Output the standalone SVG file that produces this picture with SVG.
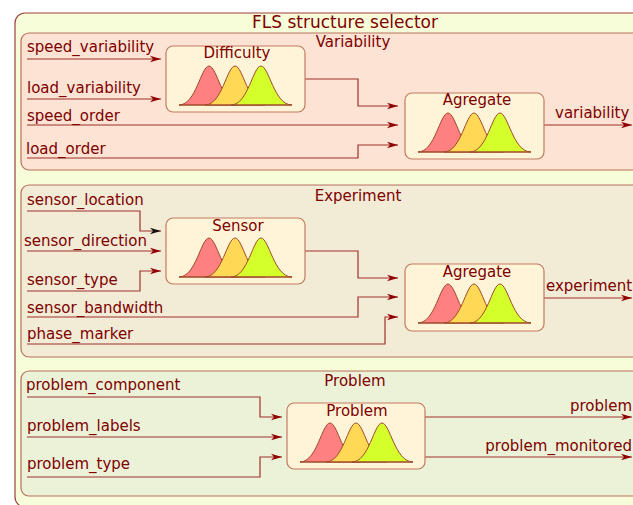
<svg xmlns="http://www.w3.org/2000/svg" xmlns:xlink="http://www.w3.org/1999/xlink" width="633" height="505" viewBox="0 0 633 505">
<style>
text{font-family:"DejaVu Sans","Liberation Sans",sans-serif;fill:#800000;font-size:15px}
.title{font-size:17px}
.c{text-anchor:middle}
.e{text-anchor:end}
.edge{fill:none;stroke:#a0302c;stroke-width:1.2}
.cl{stroke:#b8705e;stroke-width:1.2}
.node{fill:#fff4d8;stroke:#c47a62;stroke-width:1.2}
.br{fill:#ff8080;stroke:#a04a2a;stroke-width:1}
.by{fill:#ffd955;stroke:#a04a2a;stroke-width:1}
.bl{fill:#d5ff2a;stroke:#a04a2a;stroke-width:1}
.bb{stroke:#a04a2a;stroke-width:1.2}
</style>
<defs>
<marker id="ah" markerUnits="userSpaceOnUse" markerWidth="12" markerHeight="8" refX="11" refY="4" orient="auto">
<path d="M0,0.8 L11,4 L0,7.2 L3,4 Z" fill="#900000"/>
</marker>
<marker id="ahk" markerUnits="userSpaceOnUse" markerWidth="12" markerHeight="8" refX="11" refY="4" orient="auto">
<path d="M0,0.8 L11,4 L0,7.2 L3,4 Z" fill="#111"/>
</marker>
<g id="bells">
<path class="br" d="M13,59 C30,59 35,20 43,20 C51,20 56,59 73,59 Z"/>
<path class="by" d="M39,59 C56,59 61,20 69,20 C77,20 82,59 99,59 Z"/>
<path class="bl" d="M65,59 C82,59 87,20 95,20 C103,20 108,59 126,59 Z"/>
<line class="bb" x1="13" y1="59" x2="126" y2="59"/>
</g>
</defs>
<rect x="0" y="0" width="633" height="505" fill="#ffffff"/>
<g id="fls">
<rect x="15" y="13" width="640" height="494" rx="10" fill="#f6fdd8" stroke="#a04040" stroke-width="1.2"/>
<text class="title c" x="345" y="28">FLS structure selector</text>
</g>
<g id="cluster_variability">
<rect class="cl" x="21" y="33" width="630" height="137" rx="8" fill="#fde3d3"/>
<text class="c" x="353" y="47">Variability</text>
</g>
<g id="cluster_experiment">
<rect class="cl" x="21" y="185" width="630" height="172" rx="8" fill="#f2ebd6"/>
<text class="c" x="358" y="201">Experiment</text>
</g>
<g id="cluster_problem">
<rect class="cl" x="21" y="371" width="630" height="125" rx="8" fill="#ecf2d8"/>
<text class="c" x="355" y="386">Problem</text>
</g>
<g id="connectors">
<path class="edge" marker-end="url(#ah)" d="M27,59 H161"/>
<path class="edge" marker-end="url(#ah)" d="M27,99 H161"/>
<path class="edge" marker-end="url(#ah)" d="M27,125 H398"/>
<path class="edge" marker-end="url(#ah)" d="M27,158 H358 V145 H398"/>
<path class="edge" marker-end="url(#ah)" d="M305,79 H358 V106 H398"/>
<path class="edge" marker-end="url(#ah)" d="M544,125 H632"/>
<path class="edge" marker-end="url(#ahk)" d="M27,211 H140 V231 H161"/>
<path class="edge" marker-end="url(#ah)" d="M27,251 H161"/>
<path class="edge" marker-end="url(#ah)" d="M27,291 H140 V271 H161"/>
<path class="edge" marker-end="url(#ah)" d="M305,251 H358 V278 H398"/>
<path class="edge" marker-end="url(#ah)" d="M27,317 H358 V297 H398"/>
<path class="edge" marker-end="url(#ah)" d="M27,344 H385 V317 H398"/>
<path class="edge" marker-end="url(#ah)" d="M544,298 H632"/>
<path class="edge" marker-end="url(#ah)" d="M27,397 H260 V417 H282"/>
<path class="edge" marker-end="url(#ah)" d="M27,437 H282"/>
<path class="edge" marker-end="url(#ah)" d="M27,477 H260 V457 H282"/>
<path class="edge" marker-end="url(#ah)" d="M425,417 H632"/>
<path class="edge" marker-end="url(#ah)" d="M425,457 H632"/>
<text x="27" y="52">speed_variability</text>
<text x="27" y="93">load_variability</text>
<text x="27" y="121">speed_order</text>
<text x="26" y="154">load_order</text>
<text x="555" y="118">variability</text>
<text x="27" y="205">sensor_location</text>
<text x="24" y="246">sensor_direction</text>
<text x="27" y="285">sensor_type</text>
<text x="27" y="313">sensor_bandwidth</text>
<text x="27" y="339">phase_marker</text>
<text x="546" y="291">experiment</text>
<text x="26" y="390">problem_component</text>
<text x="27" y="431">problem_labels</text>
<text x="27" y="469">problem_type</text>
<text class="e" x="632" y="411">problem</text>
<text class="e" x="632" y="451">problem_monitored</text>
</g>
<g id="difficulty">
<rect class="node" x="166" y="46" width="139" height="66" rx="7"/>
<text class="c" x="237" y="58">Difficulty</text>
<use xlink:href="#bells" href="#bells" x="166" y="46"/>
</g>
<g id="agregate_variability">
<rect class="node" x="405" y="93" width="139" height="66" rx="7"/>
<text class="c" x="477" y="105">Agregate</text>
<use xlink:href="#bells" href="#bells" x="405" y="93"/>
</g>
<g id="sensor">
<rect class="node" x="166" y="218" width="139" height="66" rx="7"/>
<text class="c" x="238" y="231">Sensor</text>
<use xlink:href="#bells" href="#bells" x="166" y="218"/>
</g>
<g id="agregate_experiment">
<rect class="node" x="405" y="264" width="139" height="67" rx="7"/>
<text class="c" x="477" y="277">Agregate</text>
<use xlink:href="#bells" href="#bells" x="405" y="264"/>
</g>
<g id="problem">
<rect class="node" x="287" y="403" width="138" height="66" rx="7"/>
<text class="c" x="357" y="416">Problem</text>
<use xlink:href="#bells" href="#bells" x="287" y="403"/>
</g>
</svg>
